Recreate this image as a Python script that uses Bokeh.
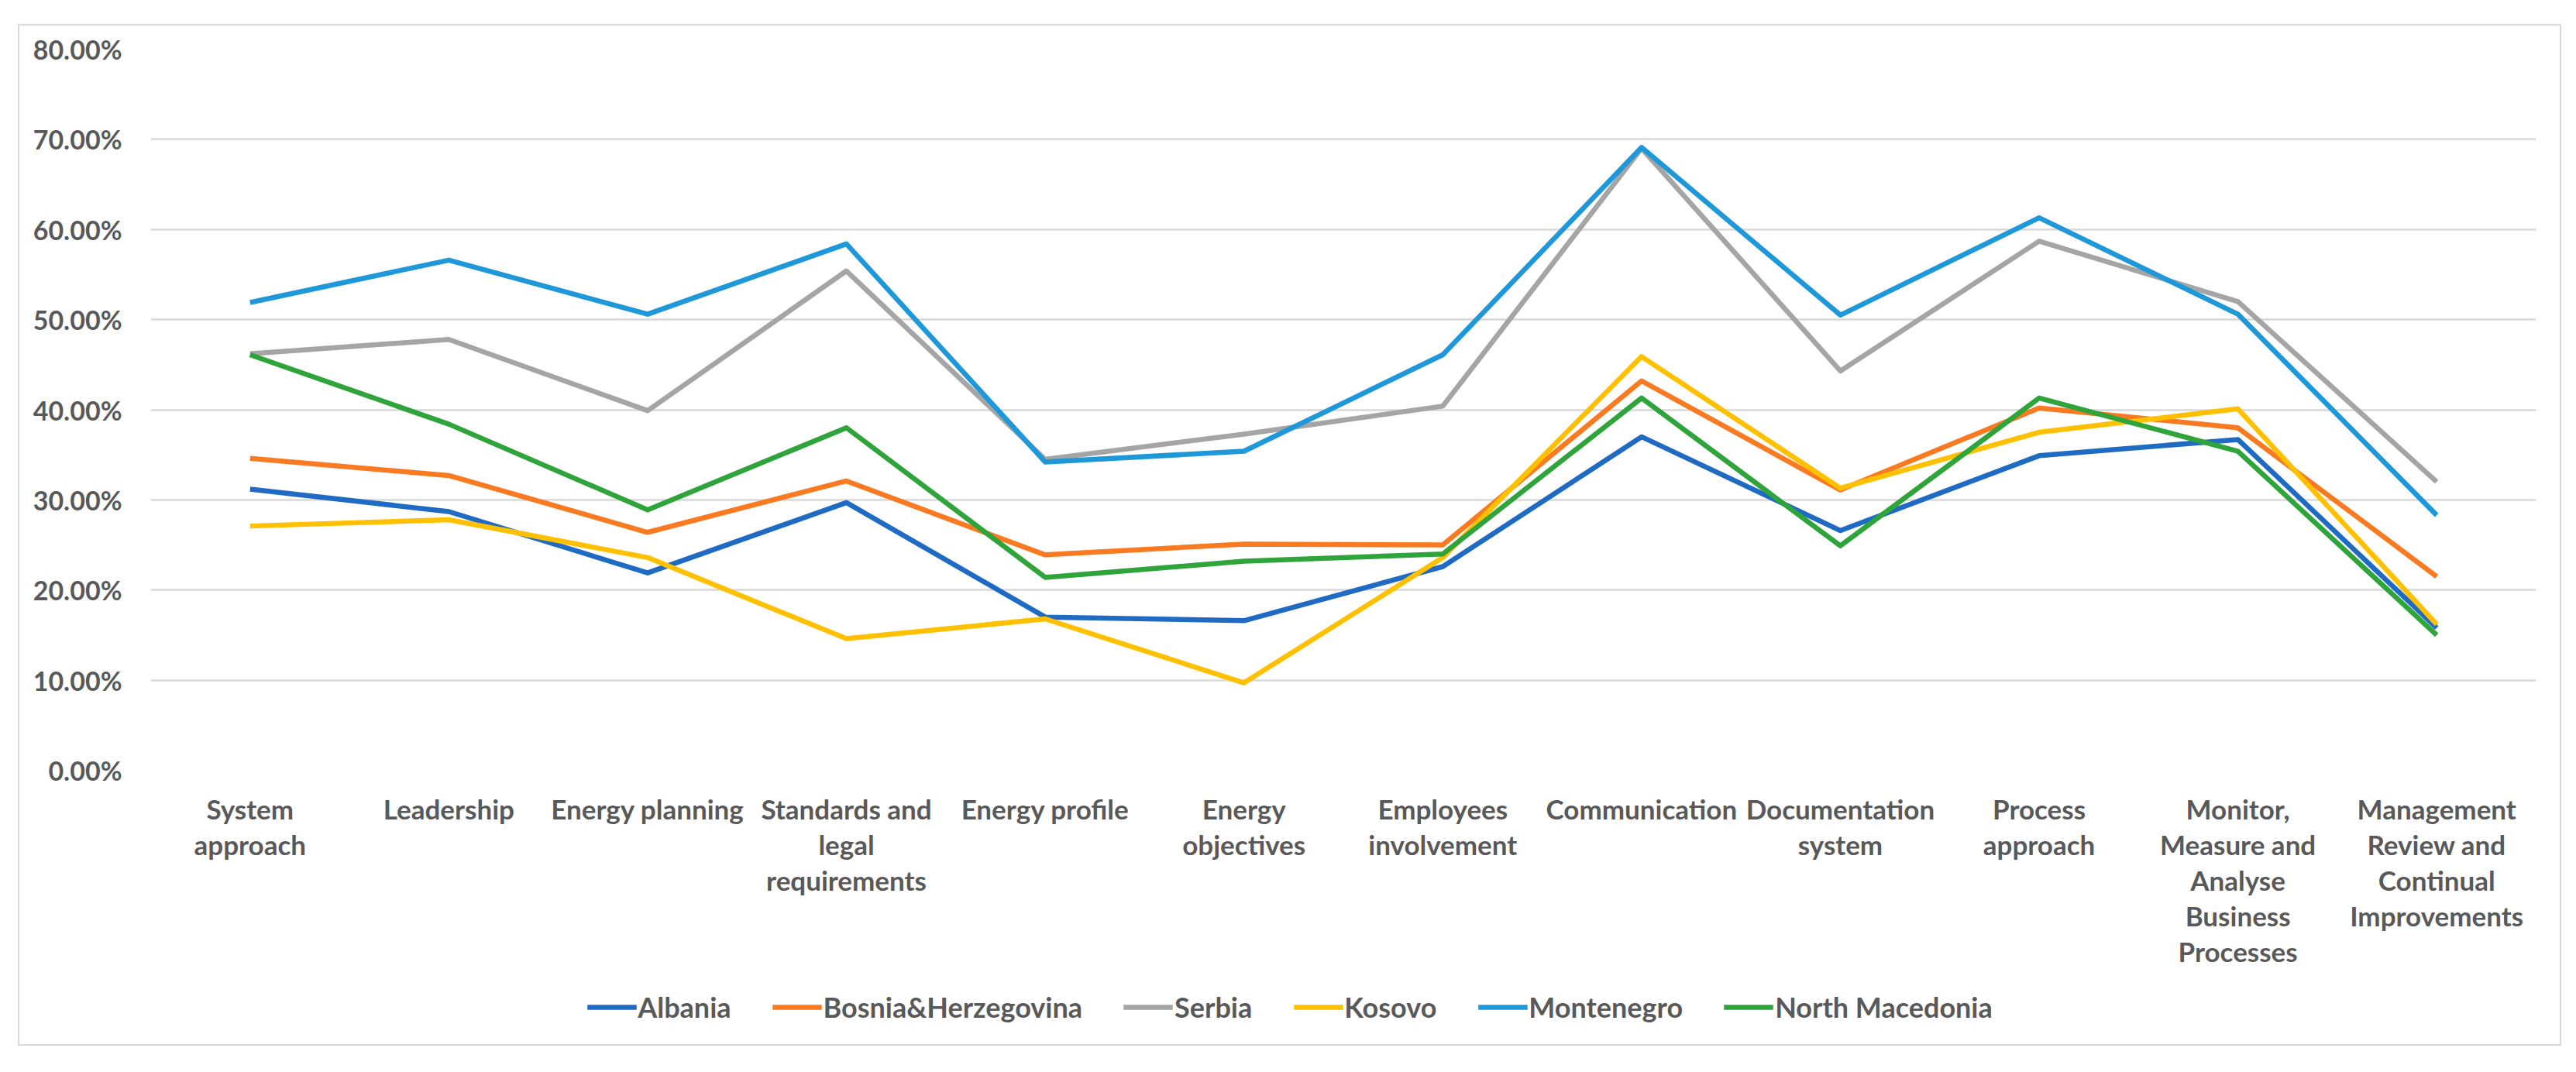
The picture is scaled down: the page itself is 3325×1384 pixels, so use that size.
from bokeh.plotting import figure
from bokeh.layouts import column
from bokeh.models import Range1d, FixedTicker, NumeralTickFormatter, Legend, LegendItem
from bokeh.embed import file_html
from bokeh.resources import INLINE

categories = ["System\napproach", "Leadership", "Energy planning", "Standards and\nlegal\nrequirements",
              "Energy profile", "Energy\nobjectives", "Employees\ninvolvement", "Communication",
              "Documentation\nsystem", "Process\napproach",
              "Monitor,\nMeasure and\nAnalyse\nBusiness\nProcesses",
              "Management\nReview and\nContinual\nImprovements"]

albania = [31.2, 28.7, 21.9, 29.7, 17.0, 16.6, 22.6, 37.0, 26.6, 34.9, 36.7, 15.8]
bosnia = [34.6, 32.7, 26.4, 32.1, 23.9, 25.1, 25.0, 43.2, 31.1, 40.2, 38.0, 21.5]
serbia = [46.2, 47.8, 39.9, 55.4, 34.5, 37.3, 40.4, 69.0, 44.3, 58.7, 52.0, 32.0]
kosovo = [27.1, 27.8, 23.6, 14.6, 16.8, 9.7, 23.6, 45.9, 31.3, 37.5, 40.1, 16.2]
montenegro = [51.9, 56.6, 50.6, 58.4, 34.2, 35.4, 46.1, 69.1, 50.5, 61.3, 50.6, 28.3]
north_macedonia = [46.1, 38.4, 28.9, 38.0, 21.4, 23.2, 24.0, 41.3, 24.9, 41.3, 35.4, 15.0]

series_names = ["Albania", "Bosnia&Herzegovina", "Serbia", "Kosovo", "Montenegro", "North Macedonia"]
series_values = [albania, bosnia, serbia, kosovo, montenegro, north_macedonia]
colors = ["#1F6BC4", "#FA7A22", "#A5A5A5", "#FFC000", "#1E98D8", "#2EA43A"]

y_ticks = [0.0, 0.1, 0.2, 0.3, 0.4, 0.5, 0.6, 0.7, 0.8]

FONT = "Lato"
TXT = "#595959"

p = figure(frame_width=3079, frame_height=931, output_backend="svg", toolbar_location=None,
           x_range=Range1d(-0.5, len(categories) - 0.5), y_range=Range1d(0, 0.8),
           min_border_left=169, min_border_right=31, min_border_top=30, min_border_bottom=255)
p.outline_line_color = None
p.background_fill_color = "white"
p.border_fill_color = "white"

xs = list(range(len(categories)))
for name, vals, c in zip(series_names, series_values, colors):
    p.line(xs, [v / 100 for v in vals], line_color=c, line_width=6.5, line_join="round")

p.xgrid.grid_line_color = None
p.ygrid.grid_line_color = "#D9D9D9"
p.ygrid.grid_line_width = 2.5
p.ygrid.ticker = FixedTicker(ticks=y_ticks)

p.yaxis.ticker = FixedTicker(ticks=y_ticks)
p.yaxis.formatter = NumeralTickFormatter(format="0.00%")
p.xaxis.ticker = FixedTicker(ticks=xs)
p.xaxis.major_label_overrides = {i: c for i, c in enumerate(categories)}

for ax in (p.xaxis[0], p.yaxis[0]):
    ax.axis_line_color = None
    ax.major_tick_line_color = None
    ax.minor_tick_line_color = None
    ax.major_tick_out = 0
    ax.major_tick_in = 0
    ax.major_label_text_font = FONT
    ax.major_label_text_font_style = "bold"
    ax.major_label_text_color = TXT

p.yaxis.major_label_text_font_size = "34px"
p.yaxis.major_label_standoff = 37
p.xaxis.major_label_text_font_size = "35px"
p.xaxis.major_label_standoff = 28
p.xaxis.major_label_text_line_height = 1.1

# legend strip below the chart
lg = figure(frame_width=3279, frame_height=96, output_backend="svg", toolbar_location=None,
            x_range=Range1d(0, 1), y_range=Range1d(0, 1),
            min_border_left=0, min_border_right=0, min_border_top=0, min_border_bottom=0)
lg.axis.visible = False
lg.grid.visible = False
lg.outline_line_color = None
lg.background_fill_color = "white"
lg.border_fill_color = "white"
items = []
for name, c in zip(series_names, colors):
    r = lg.line([0.5], [0.5], line_color=c, line_width=6.5)
    items.append(LegendItem(label=name, renderers=[r]))

legend = Legend(items=items, orientation="horizontal", location="center")
legend.label_text_font = FONT
legend.label_text_font_style = "bold"
legend.label_text_font_size = "36px"
legend.label_text_color = TXT
legend.glyph_width = 64
legend.glyph_height = 30
legend.label_standoff = 2
legend.spacing = 53
legend.border_line_color = None
legend.background_fill_alpha = 0
legend.margin = 0
legend.padding = 0
lg.add_layout(legend, "center")

layout = column(p, lg, spacing=0)
layout.margin = (31, 0, 0, 23)
layout.styles = {"border": "2px solid #D9D9D9", "background-color": "white"}

open("out.html", "w").write(file_html(layout, INLINE))
